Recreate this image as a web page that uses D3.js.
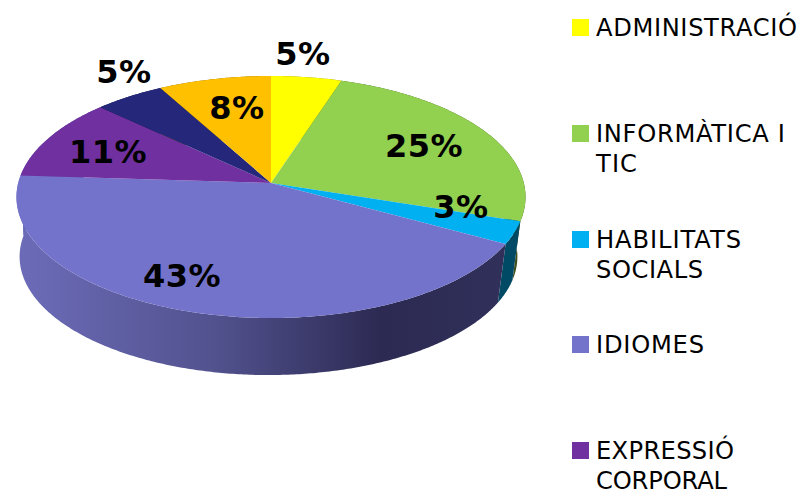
<!DOCTYPE html>
<html>
<head>
<meta charset="utf-8">
<script src="https://d3js.org/d3.v7.min.js"></script>
<style>
  html, body { margin: 0; padding: 0; background: #fff; overflow: hidden; }
  text { font-family: "DejaVu Sans", sans-serif; fill: #000; }
  .pct { font-size: 32px; font-weight: bold; text-anchor: middle; letter-spacing: 0.5px; }
  .legend-label { font-size: 24.2px; }
</style>
</head>
<body>
<div id="chart"></div>
<script>
// slices, clockwise from 12 o'clock
const values = [5, 25, 3, 43, 11, 5, 8];
const sliceColors = ["#ffff00", "#92d050", "#00b0f0", "#7373cb", "#7030a0", "#25277a", "#ffc000"];
const wallColors = ["#7f7f00", "#3f4f1c", "#004a66", "url(#wallIdiomes)", "url(#wallIdiomes)", "#12133c", "#7f6000"];
const percentLabels = ["5%", "25%", "3%", "43%", "11%", "5%", "8%"];

// the last two legend rows fall off the bottom of the picture
const legendLabels = [
    ["ADMINISTRACIÓ"],
    ["INFORMÀTICA I", "TIC"],
    ["HABILITATS", "SOCIALS"],
    ["IDIOMES"],
    ["EXPRESSIÓ", "CORPORAL"]
];
const legendWidths = [[201], [189, 41], [145, 107], [108], [138, 131]];
const legendColors = sliceColors.slice(0, 5);
const legendRows = [36, 142, 248, 353, 459];

const labelX = [303, 424, 461, 182, 108, 124, 237];
const labelY = [65, 157, 218, 287, 163, 83, 119];

const WIDTH = 802, HEIGHT = 491;

const svg = d3.select("#chart").append("svg")
    .attr("width", WIDTH)
    .attr("height", HEIGHT);

// Tilted disc: a perspective map of the unit circle, so the apex sits above the ellipse centre
const APEX = { x: 271, y: 183 };
const BASE = { x: 268.5, y: 243, scale: 0.978 };
const RX = 252.8, RY = 119.4, K = 0.1157;

function project(angle, plane) {
    const u = Math.sin(angle), v = Math.cos(angle), d = 1 + K * v;
    return [plane.x + plane.scale * RX * u / d, plane.y - plane.scale * RY * v / d];
}
const TOP = { x: APEX.x, y: APEX.y, scale: 1 };

function rim(a0, a1, plane) {
    const n = Math.max(2, Math.ceil((a1 - a0) / 0.01));
    return d3.range(n + 1).map(i => project(a0 + (a1 - a0) * i / n, plane));
}

const pie = d3.pie().sort(null)(values);
const line = d3.line();

// Shaded side of the big slice
const grad = svg.append("defs").append("linearGradient")
    .attr("id", "wallIdiomes")
    .attr("gradientUnits", "userSpaceOnUse")
    .attr("x1", 20).attr("x2", 503).attr("y1", 0).attr("y2", 0);
grad.append("stop").attr("offset", 0).attr("stop-color", "#6c6bb8");
grad.append("stop").attr("offset", 0.4).attr("stop-color", "#52528f");
grad.append("stop").attr("offset", 0.75).attr("stop-color", "#2c2a52");
grad.append("stop").attr("offset", 1).attr("stop-color", "#30305a");

svg.append("g").selectAll("path")
    .data(pie)
    .join("path")
    .attr("fill", (d, i) => wallColors[i])
    .attr("d", d => line(rim(d.startAngle, d.endAngle, TOP)
        .concat(rim(d.startAngle, d.endAngle, BASE).reverse())) + "Z");

svg.append("g").selectAll("path")
    .data(pie)
    .join("path")
    .attr("fill", (d, i) => sliceColors[i])
    .attr("d", d => line([[APEX.x, APEX.y]].concat(rim(d.startAngle, d.endAngle, TOP))) + "Z");

svg.append("g").selectAll("text")
    .data(percentLabels)
    .join("text")
    .attr("class", "pct")
    .attr("x", (d, i) => labelX[i])
    .attr("y", (d, i) => labelY[i])
    .text(d => d);

// Legend
const legend = svg.append("g").selectAll("g")
    .data(legendLabels)
    .join("g")
    .attr("transform", (d, i) => `translate(572, ${legendRows[i]})`);

legend.append("rect")
    .attr("y", -17)
    .attr("width", 17)
    .attr("height", 17)
    .attr("fill", (d, i) => legendColors[i]);

legendLabels.forEach((lines, row) => {
    d3.select(legend.nodes()[row]).selectAll("text")
        .data(lines)
        .join("text")
        .attr("class", "legend-label")
        .attr("x", 24)
        .attr("y", (d, i) => i * 30)
        .attr("textLength", (d, i) => legendWidths[row][i])
        .attr("lengthAdjust", "spacing")
        .text(d => d);
});
</script>
</body>
</html>
